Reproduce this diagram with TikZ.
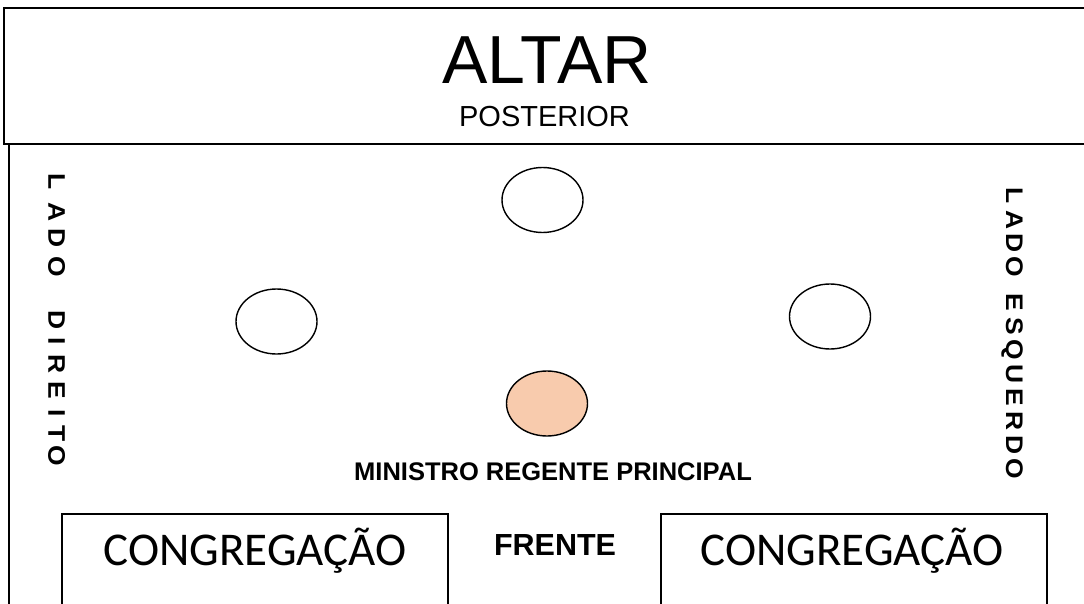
\documentclass[tikz,border=0pt]{standalone}
\usepackage{fontspec}
\setmainfont{Liberation Sans}
\newfontfamily\calib{Carlito}
\newfontfamily\sidefont{Liberation Sans Bold}[FakeStretch=1.1]
\definecolor{peach}{HTML}{F8CBAD}
\tikzset{
  frame/.style={draw=black, line width=1.4pt},
  seat/.style={ellipse, draw=black, line width=1.4pt, minimum width=81pt, minimum height=65pt, inner sep=0pt, fill=white},
  lbl/.style={inner sep=0pt, anchor=base, text=black},
  sidech/.style={inner sep=0pt, anchor=base, rotate=-90, text=black, font=\sidefont\fontsize{24}{26}\selectfont},
}
\usetikzlibrary{shapes.geometric}
\begin{document}
\begin{tikzpicture}[x=1pt,y=-1pt]
\clip (0,0) rectangle (1084,604);
\fill[white] (0,0) rectangle (1084,604);
% altar box
\draw[frame] (4,8) rectangle (1100,144);
% lower frame left side
\draw[frame] (9,144) -- (9,620);
\node[lbl, font=\fontsize{68}{70}\selectfont] (altar) at (547,84) {ALTAR};
\node[lbl, font=\fontsize{29}{31}\selectfont] (post) at (544.5,126.5) {POSTERIOR};
% side label: LADO DIREITO
\foreach \c/\y [count=\i] in {L/181.5, A/212.5, D/238.5, O/266.5, D/320, I/341.5, R/364.5, E/390, I/413.5, T/433.5, O/456}
  \node[sidech] (dir\i) at (48.4,\y) {\c};
% side label: LADO ESQUERDO
\foreach \c/\y [count=\i] in {L/196, A/219.7, D/243.4, O/267.1, E/302.8, S/326.5, Q/350.2, U/373.9, E/397.6, R/421.3, D/445, O/468.7}
  \node[sidech] (esq\i) at (1006,\y) {\c};
% seats
\node[seat] (top) at (542.5,200) {};
\node[seat] (left) at (276.5,321.5) {};
\node[seat] (right) at (830,316.5) {};
\node[seat, fill=peach] (min) at (547,403.5) {};
\node[lbl, font=\fontsize{25.5}{27}\selectfont\bfseries] (minlbl) at (553,480.7) {MINISTRO REGENTE PRINCIPAL};
% congregation boxes
\draw[frame] (62,620) -- (62,514) -- (448,514) -- (448,620);
\draw[frame] (661,620) -- (661,514) -- (1047,514) -- (1047,620);
\node[lbl, font=\calib\fontsize{47}{49}\selectfont] (cl) at (255,565) {CONGREGAÇÃO};
\node[lbl, font=\calib\fontsize{47}{49}\selectfont] (cr) at (852,565) {CONGREGAÇÃO};
\node[lbl, font=\fontsize{30.5}{32}\selectfont\bfseries] (frente) at (555,555) {FRENTE};
\end{tikzpicture}
\end{document}
